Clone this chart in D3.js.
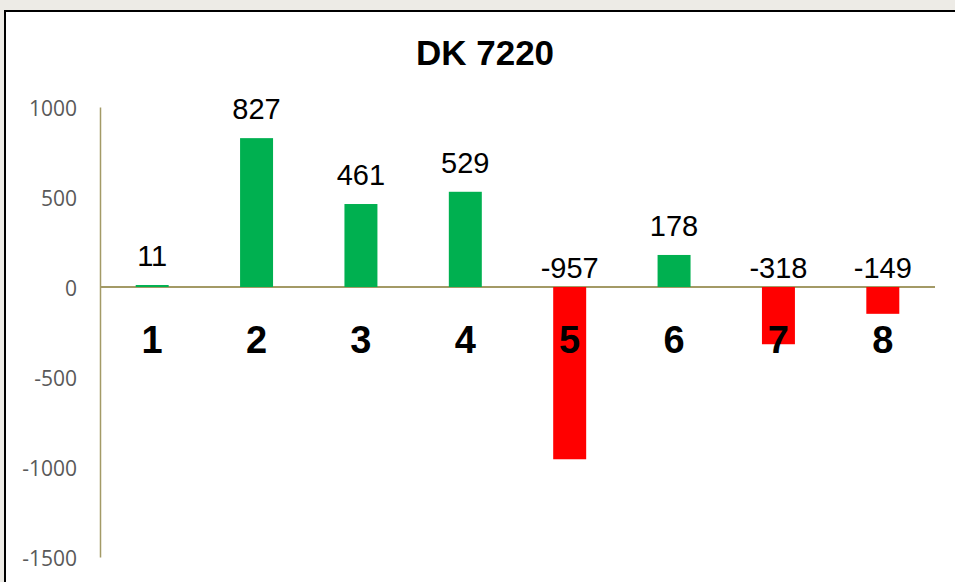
<!DOCTYPE html>
<html>
<head>
<meta charset="utf-8">
<script src="https://cdn.jsdelivr.net/npm/d3@7"></script>
<style>
  html, body { margin: 0; padding: 0; background: #edebe6; overflow: hidden; }
  svg { display: block; }
</style>
</head>
<body>
<svg width="955" height="582"></svg>
<script>
// chart data
const categories = ["1", "2", "3", "4", "5", "6", "7", "8"];
const values = [11, 827, 461, 529, -957, 178, -318, -149];
const yTicks = [1000, 500, 0, -500, -1000, -1500];
const title = "DK 7220";

const data = categories.map((c, i) => ({ cat: c, value: values[i] }));

const svg = d3.select("svg");

// chart area frame (right and bottom edges fall outside the picture)
svg.append("rect")
  .attr("x", 5)
  .attr("y", 11)
  .attr("width", 1000)
  .attr("height", 700)
  .attr("fill", "#ffffff")
  .attr("stroke", "#000000")
  .attr("stroke-width", 2);

// --- scales ---
const x = d3.scaleBand()
  .domain(categories)
  .range([100, 935])
  .paddingInner(0.684)
  .paddingOuter(0.342);

const y = d3.scaleLinear()
  .domain([-1500, 1000])
  .range([557, 107]);

const axisColor = "#a39a66";

// --- title ---
svg.append("text")
  .attr("x", 485)
  .attr("y", 65)
  .attr("text-anchor", "middle")
  .style("font-family", "'Liberation Sans', Arial, sans-serif")
  .style("font-size", "35px")
  .style("font-weight", "bold")
  .attr("fill", "#000")
  .text(title);

// --- y axis ---
const yAxis = svg.append("g")
  .attr("transform", "translate(100,0)")
  .call(d3.axisLeft(y).tickValues(yTicks).tickSize(0).tickPadding(23).tickFormat(d => String(d)));

yAxis.select(".domain")
  .attr("stroke", axisColor)
  .attr("stroke-width", 1.5);

yAxis.selectAll("text")
  .attr("dy", "0.42em")
  .style("font-family", "'Open Sans', 'Liberation Sans', sans-serif")
  .style("font-size", "21px")
  .attr("fill", "#595959");

// --- zero line ---
svg.append("line")
  .attr("x1", 100)
  .attr("x2", 935)
  .attr("y1", y(0))
  .attr("y2", y(0))
  .attr("stroke", axisColor)
  .attr("stroke-width", 2);

// --- bars ---
svg.selectAll("rect.bar")
  .data(data)
  .enter()
  .append("rect")
  .attr("class", "bar")
  .attr("x", d => x(d.cat))
  .attr("y", d => y(Math.max(0, d.value)))
  .attr("width", x.bandwidth())
  .attr("height", d => Math.abs(y(d.value) - y(0)))
  .attr("fill", d => d.value >= 0 ? "#00b050" : "#ff0000");

// --- value labels ---
svg.selectAll("text.value")
  .data(data)
  .enter()
  .append("text")
  .attr("class", "value")
  .attr("x", d => x(d.cat) + x.bandwidth() / 2)
  .attr("y", d => d.value >= 0 ? y(d.value) - 19 : y(0) - 9)
  .attr("text-anchor", "middle")
  .style("font-family", "'Liberation Sans', Arial, sans-serif")
  .style("font-size", "29px")
  .attr("fill", "#000")
  .text(d => d.value);

// --- category labels ---
svg.selectAll("text.cat")
  .data(data)
  .enter()
  .append("text")
  .attr("class", "cat")
  .attr("x", d => x(d.cat) + x.bandwidth() / 2)
  .attr("y", 353)
  .attr("text-anchor", "middle")
  .style("font-family", "'Liberation Sans', Arial, sans-serif")
  .style("font-size", "38px")
  .style("font-weight", "bold")
  .attr("fill", "#000")
  .text(d => d.cat);
</script>
</body>
</html>
